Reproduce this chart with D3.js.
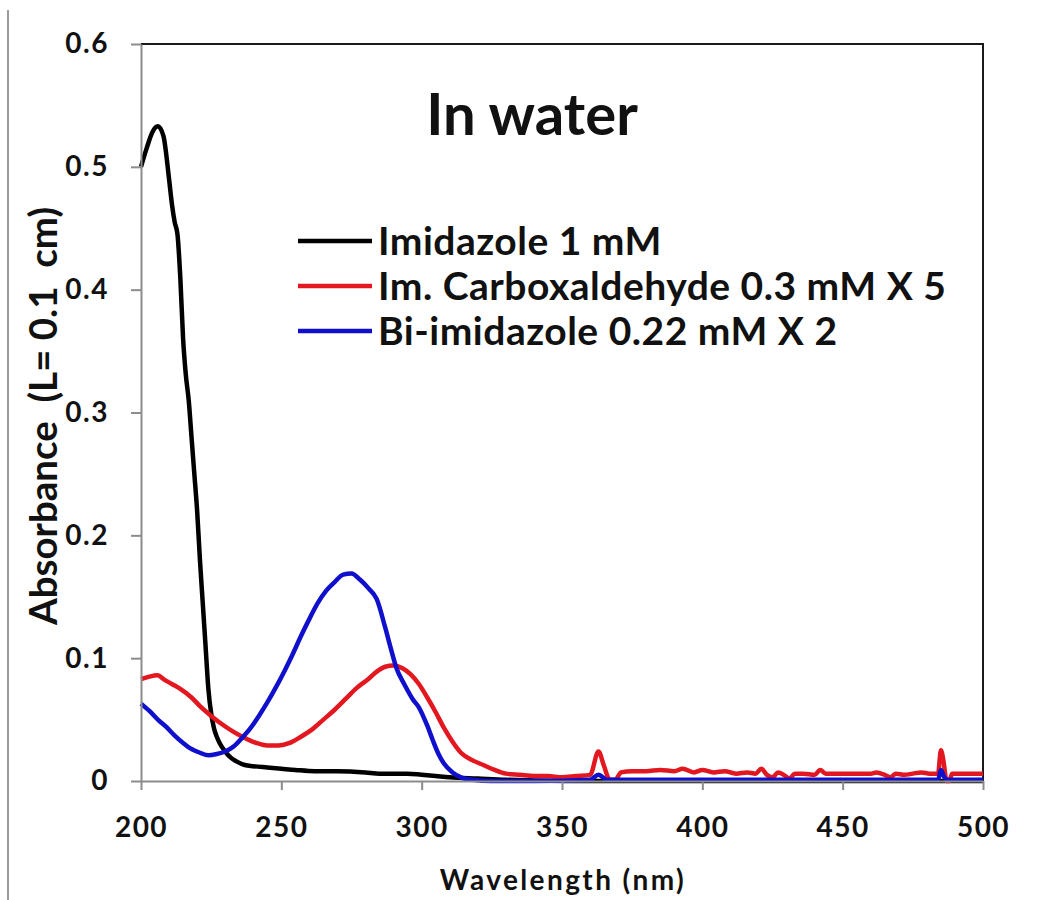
<!DOCTYPE html>
<html>
<head>
<meta charset="utf-8">
<script src="https://cdn.jsdelivr.net/npm/d3@7"></script>
<style>
  body { margin: 0; background: #fff; }
  text { font-family: Lato, "Open Sans", sans-serif; font-weight: bold; fill: #111; }
</style>
</head>
<body>
<div id="chart"></div>
<script>
// wavelength (nm) / absorbance pairs
var imidazoleWl = [200, 202, 204, 206, 208, 210, 211, 212, 213, 214, 215, 216, 217, 218, 219, 220, 221, 222, 223, 224, 225, 226, 227, 228, 230, 232, 234, 237, 240, 245, 250, 255, 262, 270, 280, 285, 295, 300, 305, 310, 320, 330, 340, 360, 400, 450, 500];
var imidazoleAbs = [0.500, 0.515, 0.528, 0.533, 0.525, 0.490, 0.470, 0.455, 0.445, 0.410, 0.360, 0.330, 0.310, 0.280, 0.250, 0.220, 0.180, 0.145, 0.110, 0.075, 0.055, 0.043, 0.036, 0.031, 0.024, 0.019, 0.016, 0.013, 0.012, 0.011, 0.010, 0.009, 0.008, 0.008, 0.007, 0.006, 0.006, 0.005, 0.004, 0.003, 0.002, 0.001, 0.0005, 0, 0, 0, 0];

var carboxWl = [200, 203, 206, 208, 211, 214, 218, 221, 225, 229, 233, 237, 241, 245, 249, 253, 257, 261, 265, 269, 273, 277, 281, 284, 287, 290, 293, 296, 299, 302, 305, 308, 311, 314, 318, 322, 326, 330, 335, 340, 345, 350, 355, 360, 363, 365, 367, 369, 371, 375, 380, 385, 390, 393, 397, 400, 404, 408, 412, 416, 419, 421, 423, 425, 427, 429, 431, 433, 436, 440, 442, 444, 450, 456, 460, 462, 465, 467, 469, 472, 475, 478, 481, 484, 485, 486, 487, 488, 489, 495, 500];
var carboxAbs = [0.083, 0.085, 0.086, 0.083, 0.079, 0.075, 0.068, 0.061, 0.053, 0.046, 0.040, 0.035, 0.031, 0.029, 0.029, 0.031, 0.036, 0.042, 0.050, 0.058, 0.067, 0.076, 0.083, 0.089, 0.093, 0.094, 0.092, 0.087, 0.079, 0.068, 0.056, 0.043, 0.032, 0.023, 0.017, 0.013, 0.009, 0.006, 0.005, 0.004, 0.004, 0.003, 0.004, 0.005, 0.024, 0.012, 0.001, 0.001, 0.007, 0.008, 0.008, 0.009, 0.008, 0.010, 0.007, 0.009, 0.007, 0.008, 0.006, 0.007, 0.006, 0.010, 0.005, 0.003, 0.007, 0.005, 0.002, 0.006, 0.006, 0.005, 0.009, 0.006, 0.006, 0.006, 0.006, 0.007, 0.005, 0.003, 0.006, 0.005, 0.006, 0.007, 0.006, 0.006, 0.025, 0.015, 0.000, 0.000, 0.006, 0.006, 0.006];

var biimWl = [200, 203, 206, 209, 212, 215, 218, 221, 224, 227, 230, 233, 236, 239, 242, 245, 248, 251, 254, 257, 260, 263, 266, 269, 272, 275, 278, 281, 284, 287, 289, 291, 294, 297, 299, 302, 304, 306, 308, 311, 314, 318, 325, 340, 360, 363, 366, 370, 400, 450, 484, 485, 486, 487, 500];
var biimAbs = [0.063, 0.057, 0.050, 0.044, 0.037, 0.031, 0.026, 0.023, 0.021, 0.022, 0.024, 0.028, 0.035, 0.043, 0.053, 0.064, 0.076, 0.089, 0.103, 0.118, 0.132, 0.145, 0.155, 0.162, 0.168, 0.169, 0.164, 0.157, 0.148, 0.125, 0.108, 0.092, 0.078, 0.066, 0.060, 0.045, 0.033, 0.022, 0.014, 0.007, 0.003, 0.001, 0, 0, 0.001, 0.005, 0.001, 0.001, 0.001, 0.001, 0.001, 0.009, 0.004, 0.001, 0.001];

var seriesNames = ["Imidazole 1 mM", "Im. Carboxaldehyde 0.3 mM X 5", "Bi-imidazole 0.22 mM X 2"];
var seriesColors = ["#000000", "#e3171f", "#1010cc"];
var xTicks = [200, 250, 300, 350, 400, 450, 500];
var yTicks = [0, 0.1, 0.2, 0.3, 0.4, 0.5, 0.6];

var width = 1048, height = 900;
var plot = { left: 141, right: 983, top: 44, bottom: 781 };

var svg = d3.select('#chart').append('svg')
  .attr('width', width)
  .attr('height', height);

// the left edge of the scanned page
svg.append('line')
  .attr('x1', 8).attr('x2', 8).attr('y1', 10).attr('y2', height)
  .attr('stroke', '#9a9a9a').attr('stroke-width', 2);

var x = d3.scaleLinear().domain([200, 500]).range([plot.left, plot.right]);
var y = d3.scaleLinear().domain([0, 0.6]).range([plot.bottom, plot.top]);

// top and right frame lines
svg.append('path')
  .attr('d', 'M' + plot.left + ',' + plot.top + 'H' + plot.right + 'V' + plot.bottom)
  .attr('fill', 'none').attr('stroke', '#1a1a1a').attr('stroke-width', 2);

var series = [
  { name: seriesNames[0], color: seriesColors[0], wl: imidazoleWl, abs: imidazoleAbs },
  { name: seriesNames[1], color: seriesColors[1], wl: carboxWl, abs: carboxAbs },
  { name: seriesNames[2], color: seriesColors[2], wl: biimWl, abs: biimAbs },
];

var line = d3.line()
  .x(function (d) { return x(d[0]); })
  .y(function (d) { return y(d[1]); })
  .curve(d3.curveMonotoneX);

// draw the spectra
svg.append('g').attr('class', 'spectra')
  .selectAll('path')
  .data(series)
  .enter().append('path')
  .attr('fill', 'none')
  .attr('stroke', function (d) { return d.color; })
  .attr('stroke-width', 4.5)
  .attr('stroke-linejoin', 'round')
  .attr('d', function (d) { return line(d3.zip(d.wl, d.abs)); });

// axes
var xAxis = d3.axisBottom(x).tickValues(xTicks).tickSize(9).tickSizeOuter(0).tickPadding(27);
var yAxis = d3.axisLeft(y).tickValues(yTicks).tickSize(10).tickSizeOuter(0).tickPadding(22)
  .tickFormat(function (d) { return d === 0 ? '0' : d3.format('.1f')(d); });

var gx = svg.append('g').attr('transform', 'translate(0,' + plot.bottom + ')').call(xAxis);
var gy = svg.append('g').attr('transform', 'translate(' + plot.left + ',0)').call(yAxis);

[gx, gy].forEach(function (g) {
  g.select('.domain').attr('stroke', '#8c8c8c').attr('stroke-width', 2);
  g.selectAll('.tick line').attr('stroke', '#8c8c8c').attr('stroke-width', 2);
  g.selectAll('.tick text')
    .style('font-family', 'Lato, sans-serif')
    .style('font-weight', 'bold')
    .style('font-size', '28px')
    .style('letter-spacing', '1.5px')
    .attr('fill', '#111');
});

// title
svg.append('text')
  .attr('x', 532).attr('y', 135)
  .attr('text-anchor', 'middle')
  .style('font-size', '58px')
  .text('In water');

// axis titles
svg.append('text')
  .attr('x', 563).attr('y', 890)
  .attr('text-anchor', 'middle')
  .style('font-size', '28px')
  .style('letter-spacing', '2.4px')
  .text('Wavelength (nm)');

svg.append('text')
  .attr('transform', 'translate(57,416) rotate(-90)')
  .attr('text-anchor', 'middle')
  .style('font-size', '38.5px')
  .style('white-space', 'pre')
  .text('Absorbance  (L= 0.1  cm)');

// legend
var legend = svg.append('g').attr('class', 'legend')
  .selectAll('g')
  .data(series)
  .enter().append('g')
  .attr('transform', function (d, i) { return 'translate(298,' + (241 + i * 45) + ')'; });

legend.append('line')
  .attr('x1', 0).attr('x2', 74)
  .attr('stroke', function (d) { return d.color; })
  .attr('stroke-width', 4.5);

legend.append('text')
  .attr('x', 80).attr('y', 14)
  .style('font-size', '39px')
  .style('letter-spacing', '0.5px')
  .text(function (d) { return d.name; });
</script>
</body>
</html>
